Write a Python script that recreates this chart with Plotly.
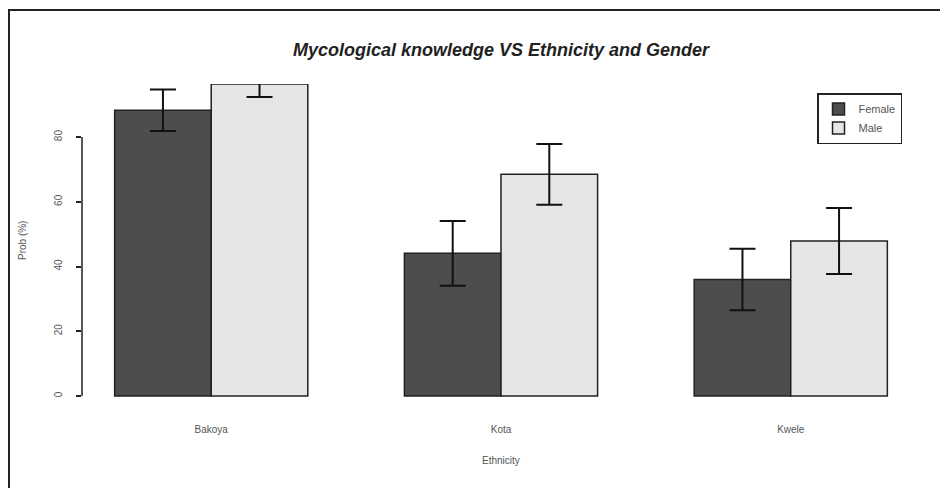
import plotly.graph_objects as go

ethnicity = ["Bakoya", "Kota", "Kwele"]
female = [88.3, 44.1, 36.0]
female_err = [6.4, 10.0, 9.5]
male = [96.4, 68.5, 47.9]
male_err = [4.0, 9.4, 10.2]
y_ticks = [0, 20, 40, 60, 80]

FONT = "Liberation Sans, Arial, sans-serif"

# page has an 8px body margin: figure origin sits at (8, 8) in the window
OFF = 8
W, H = 948 - OFF, 488 - OFF
L = 82 - OFF
T = 84 - OFF
R = W - (920 - OFF)
B = H - (408 - OFF)
pw = W - L - R
ph = H - T - B
y0_px = H - B


def px_x(x):
    return (x - OFF - L) / pw


def px_y(y):
    return (y0_px - (y - OFF)) / ph


fig = go.Figure()
fig.add_trace(go.Bar(
    x=ethnicity, y=female, name="Female",
    marker=dict(color="#4d4d4d", line=dict(color="#222222", width=1.5)),
    error_y=dict(type="data", array=female_err, color="#111111", thickness=2, width=13),
))
fig.add_trace(go.Bar(
    x=ethnicity, y=male, name="Male",
    marker=dict(color="#e6e6e6", line=dict(color="#222222", width=1.5)),
    error_y=dict(type="data", array=male_err, color="#111111", thickness=2, width=13),
))

fig.update_layout(
    width=W, height=H,
    margin=dict(l=L, r=R, t=T, b=B, autoexpand=False),
    paper_bgcolor="white", plot_bgcolor="white",
    barmode="group", bargap=1/3, bargroupgap=0,
    showlegend=True,
    font=dict(family=FONT, color="#555555", size=10),
    title=dict(
        text="<b><i>Mycological knowledge VS Ethnicity and Gender</i></b>",
        x=(L + pw / 2) / W, xanchor="center",
        y=1 - (50 - OFF) / H, yanchor="middle",
        font=dict(family=FONT, size=18, color="#222222"),
    ),
    legend=dict(
        x=px_x(817), y=px_y(93), xanchor="left", yanchor="top",
        bordercolor="#222222", borderwidth=1.5, bgcolor="white",
        font=dict(family=FONT, size=11, color="#555555"),
        tracegroupgap=0, itemwidth=30,
    ),
    xaxis=dict(
        range=[-0.446, 2.446], showline=False, showgrid=False, zeroline=False,
        ticks="outside", ticklen=12, tickcolor="rgba(0,0,0,0)",
        tickfont=dict(family=FONT, size=10, color="#555555"),
    ),
    yaxis=dict(
        range=[-3.7, 96.4], showline=False, showgrid=False, zeroline=False,
        tickvals=y_ticks, ticktext=[str(v) for v in y_ticks],
        ticks="outside", ticklen=5, tickwidth=1.5, tickcolor="#222222",
        tickangle=-90, ticklabelstandoff=10,
        tickfont=dict(family=FONT, size=10, color="#555555"),
    ),
    shapes=[
        dict(type="line", xref="paper", yref="y", x0=0, x1=0, y0=y_ticks[0], y1=y_ticks[-1],
             line=dict(color="#222222", width=1.5)),
        dict(type="rect", xref="paper", yref="paper",
             x0=px_x(9), x1=px_x(980), y0=px_y(520), y1=px_y(10),
             line=dict(color="#222222", width=2), layer="below"),
    ],
    annotations=[
        dict(text="Ethnicity", xref="paper", yref="paper", x=0.5, y=px_y(460),
             showarrow=False, xanchor="center", yanchor="middle",
             font=dict(family=FONT, size=10, color="#555555")),
        dict(text="Prob (%)", xref="paper", yref="paper", x=px_x(22), y=px_y(241),
             showarrow=False, xanchor="center", yanchor="middle", textangle=-90,
             font=dict(family=FONT, size=10, color="#555555")),
    ],
)

fig.write_html("out.html")
